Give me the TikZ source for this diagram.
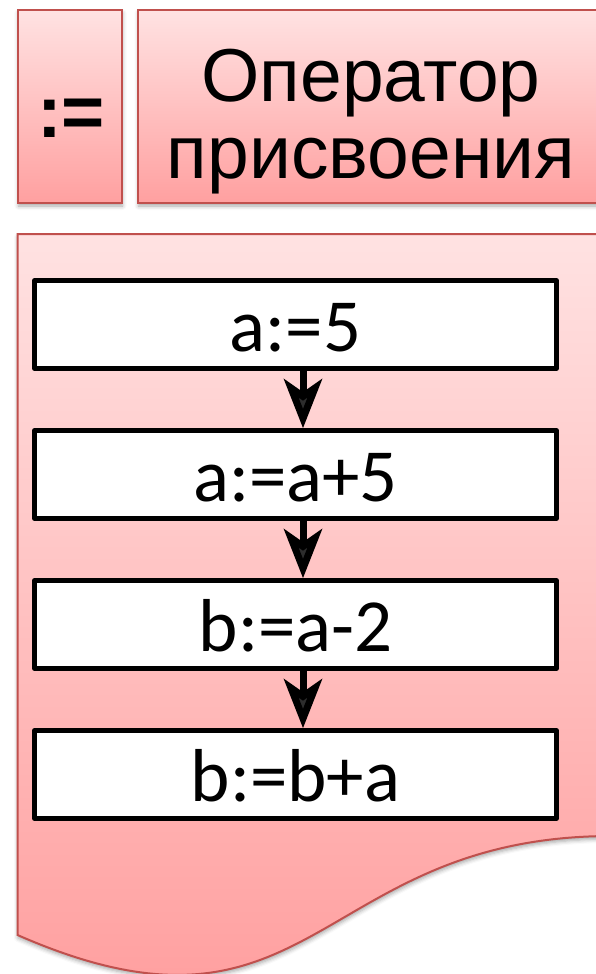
\documentclass[tikz,border=0pt]{standalone}
\usepackage{fontspec}
\setmainfont{Liberation Sans}
\newfontfamily\calfont{Carlito}
\usetikzlibrary{arrows.meta,shadows.blur}
\definecolor{gtop}{RGB}{255,226,226}
\definecolor{gbot}{RGB}{255,160,160}
\definecolor{redline}{RGB}{192,80,77}
\begin{document}
\begin{tikzpicture}[x=1pt,y=-1pt,
  softshadow/.style={blur shadow={shadow xshift=0.5pt, shadow yshift=-3pt, shadow blur radius=4pt, shadow opacity=35}},
  headbox/.style={draw=redline, line width=2pt, top color=gtop, bottom color=gbot, inner sep=0pt, softshadow},
  flowbox/.style={draw=black, line width=4.7pt, fill=white, line join=round, minimum width=522pt, minimum height=88pt, inner sep=0pt, text height=53pt, text depth=0pt, font=\calfont\fontsize{75}{80}\selectfont},
  flowarrow/.style={line width=7pt, -{Stealth[length=49pt,width=38pt,inset=13pt]}},
  titletext/.style={anchor=base, inner sep=0pt, font=\fontsize{75}{78}\selectfont}
]
\useasboundingbox (0,0) rectangle (595,974);

% document-shaped container
\path[softshadow] (17.5,234) -- (612,234) -- (612,836) .. controls (314.5,836) and (314.5,1065) .. (17.5,935) -- cycle;
\begin{scope}
  \clip (17.5,234) -- (612,234) -- (612,836) .. controls (314.5,836) and (314.5,1065) .. (17.5,935) -- cycle;
  \shade[top color=gtop, bottom color=gbot] (0,234) rectangle (640,985);
\end{scope}
\draw[redline, line width=2pt] (17.5,234) -- (612,234) -- (612,836) .. controls (314.5,836) and (314.5,1065) .. (17.5,935) -- cycle;

% header boxes
\node[headbox, minimum width=104pt, minimum height=193pt] (opbox) at (70,106.5) {};
\node[headbox, minimum width=466pt, minimum height=193pt] (titlebox) at (371,106.5) {};
\node[titletext, font=\bfseries\fontsize{74}{78}\selectfont] (optext) at (71,137) {:=};
\node[titletext] (title1) at (371,101.5) {Оператор};
\node[titletext] (title2) at (371,178.5) {присвоения};

% flow boxes
\node[flowbox] (b1) at (295.5,324.5) {a:=5};
\node[flowbox] (b2) at (295.5,474.5) {a:=a+5};
\node[flowbox] (b3) at (295.5,624.5) {b:=a-2};
\node[flowbox] (b4) at (295.5,774.5) {b:=b+a};

\draw[flowarrow] ([xshift=7.5pt]b1.south) -- ([xshift=7.5pt]b2.north);
\draw[flowarrow] ([xshift=7.5pt]b2.south) -- ([xshift=7.5pt]b3.north);
\draw[flowarrow] ([xshift=7.5pt]b3.south) -- ([xshift=7.5pt]b4.north);
\end{tikzpicture}
\end{document}
